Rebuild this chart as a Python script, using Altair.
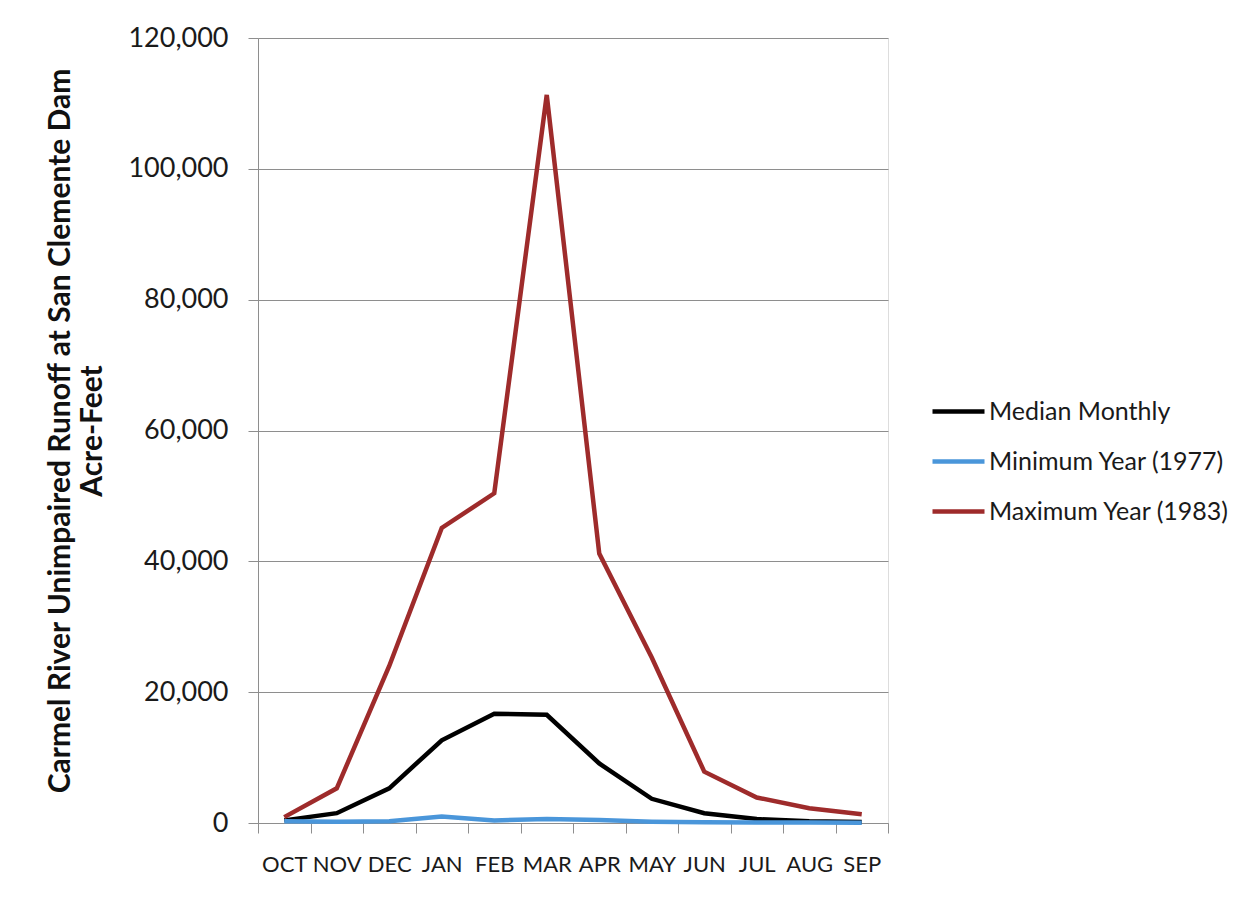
import altair as alt
import pandas as pd

months = ["OCT", "NOV", "DEC", "JAN", "FEB", "MAR", "APR", "MAY", "JUN", "JUL", "AUG", "SEP"]
median_monthly = [400, 1500, 5300, 12650, 16700, 16550, 9100, 3700, 1500, 600, 250, 150]
minimum_1977 = [250, 200, 250, 1000, 400, 600, 450, 200, 100, 80, 60, 50]
maximum_1983 = [900, 5300, 24000, 45100, 50400, 111300, 41200, 25300, 7850, 3900, 2250, 1350]

series_names = ["Median Monthly", "Minimum Year (1977)", "Maximum Year (1983)"]
series_colors = ["#000000", "#4A96DA", "#9E2B2B"]

rows = []
for name, vals in zip(series_names, [median_monthly, minimum_1977, maximum_1983]):
    for m, v in zip(months, vals):
        rows.append({"Month": m, "Runoff": v, "Series": name})
df = pd.DataFrame(rows)

FONT = "Lato"
GRID = "#8E8E8E"

chart = alt.Chart(df).mark_line(strokeWidth=4.5).encode(
    x=alt.X("Month:N", sort=months, title=None,
            scale=alt.Scale(paddingInner=0, paddingOuter=0),
            axis=alt.Axis(labelAngle=0, tickBand="extent", tickSize=10, labelPadding=21,
                          domainColor=GRID, tickColor=GRID, grid=False,
                          labelFont=FONT, labelFontSize=22, labelColor="#1a1a1a")),
    y=alt.Y("Runoff:Q", title=["Carmel River Unimpaired Runoff at San Clemente Dam", "Acre-Feet"],
            scale=alt.Scale(domain=[0, 120000], nice=False),
            axis=alt.Axis(values=[0, 20000, 40000, 60000, 80000, 100000, 120000], format=",.0f",
                          tickSize=10, labelPadding=20, domainColor=GRID, tickColor=GRID,
                          gridColor=GRID, gridWidth=1.2,
                          labelFont=FONT, labelFontSize=27, labelColor="#1a1a1a",
                          titleFont=FONT, titleFontSize=30, titleFontWeight="bold",
                          titleColor="#111111", titlePadding=20, titleLineHeight=32)),
    color=alt.Color("Series:N",
                    scale=alt.Scale(domain=series_names, range=series_colors),
                    legend=alt.Legend(title=None, orient="none", legendX=672, legendY=345,
                                      symbolType="stroke", symbolSize=2704, symbolStrokeWidth=4.5,
                                      labelFont=FONT, labelFontSize=25, labelColor="#1a1a1a",
                                      labelOffset=2, rowPadding=8, padding=0, labelLimit=400)),
    order=alt.Order("Series:N"),
).properties(
    width=630, height=785,
    autosize=alt.AutoSizeParams(type="none"),
    padding={"left": 250, "top": 30, "right": 350, "bottom": 70},
).configure_view(stroke=None).configure(background="white")

chart.save("out.html", embed_options={"renderer": "svg", "actions": False})
